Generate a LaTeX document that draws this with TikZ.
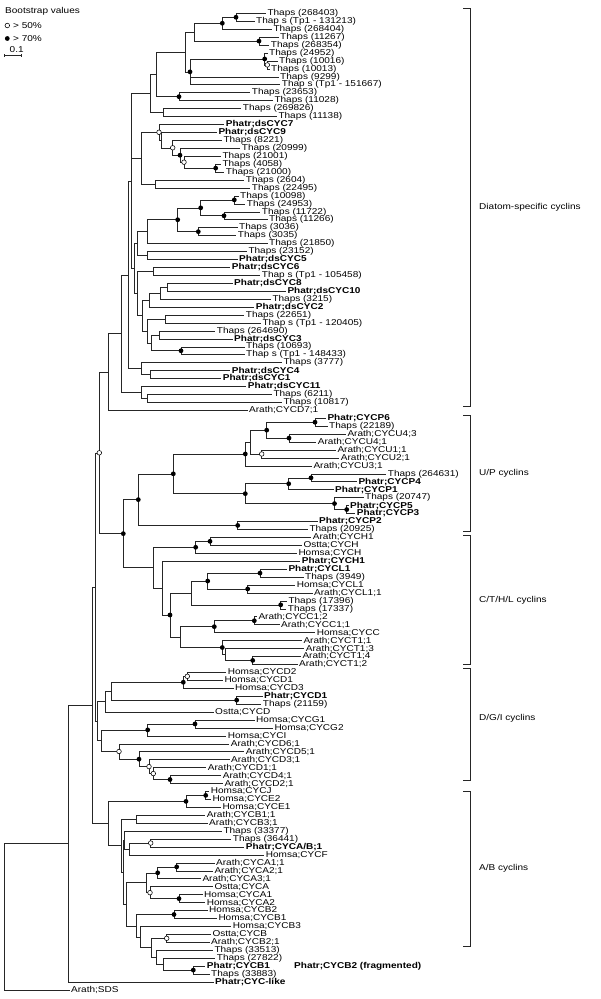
\documentclass[tikz,border=0pt]{standalone}
\usepackage{fontspec}
\setmainfont{Liberation Sans}
\usepackage{graphicx}
\usetikzlibrary{calc}
\newcommand\sx[1]{\scalebox{1.18}[1]{#1}}
\tikzset{
 br/.style={line width=0.55pt, draw=black!85},
 brk/.style={line width=0.7pt, draw=black!85},
 lab/.style={anchor=west, inner sep=0pt, font=\fontsize{8.5}{9}\selectfont},
 fdot/.style={circle, fill=black, inner sep=0pt, minimum size=4.8pt},
 odot/.style={circle, draw=black, fill=white, line width=0.55pt, inner sep=0pt, minimum size=4.6pt},
}
\newcommand\Lf[3]{\coordinate (L#1) at (#2-1.5, {13.3+7.94*(#1-1)});
  \node[lab] (T#1) at (#2, {13.3+7.94*(#1-1)}) {\sx{#3}};}
\newcommand\Lb[3]{\Lf{#1}{#2}{\bfseries #3}}
\newcommand\Nd[5]{\path let \p1=(#3), \p2=(#4) in coordinate (#1) at (#2pt, {0.5*(\y1+\y2)});
  \foreach \cc in {#5} {\draw[br] (#1) |- (\cc);}}
\newcommand\Fd[1]{\node[fdot] (d#1) at (#1) {};}
\newcommand\Od[1]{\node[odot] (d#1) at (#1) {};}
\begin{document}
\begin{tikzpicture}[x=1pt,y=-1pt]
\useasboundingbox (0,0) rectangle (600,999);
% legend
\node[lab] (leg) at (5,11.7) {\sx{Bootstrap values}};
\node[odot] (lo) at (7.3,25.5) {};
\node[lab] (lot) at (13,25.5) {\sx{> 50\%}};
\node[fdot] (lf) at (7.3,38.5) {};
\node[lab] (lft) at (13,38.5) {\sx{> 70\%}};
\node[lab] (sbt) at (9.5,49.5) {\sx{0.1}};
\coordinate (s1) at (4.5,55.5); \coordinate (s2) at (21.5,55.5);
\draw[br] (s1) -- (s2);
\draw[br] ($(s1)+(0,-1.5)$) -- ($(s1)+(0,1.5)$);
\draw[br] ($(s2)+(0,-1.5)$) -- ($(s2)+(0,1.5)$);
% leaves
\Lf{1}{267.3}{Thaps (268403)}
\Lf{2}{256}{Thap s (Tp1 - 131213)}
\Lf{3}{273.3}{Thaps (268404)}
\Lf{4}{280}{Thaps (11267)}
\Lf{5}{270.7}{Thaps (268354)}
\Lf{6}{269}{Thaps (24952)}
\Lf{7}{279}{Thaps (10016)}
\Lf{8}{271}{Thaps (10013)}
\Lf{9}{280}{Thaps (9299)}
\Lf{10}{281.7}{Thap s (Tp1 - 151667)}
\Lf{11}{251.7}{Thaps (23653)}
\Lf{12}{274.3}{Thaps (11028)}
\Lf{13}{242.7}{Thaps (269826)}
\Lf{14}{278.3}{Thaps (11138)}
\Lb{15}{225.7}{Phatr;dsCYC7}
\Lb{16}{218.3}{Phatr;dsCYC9}
\Lf{17}{223.3}{Thaps (8221)}
\Lf{18}{241.7}{Thaps (20999)}
\Lf{19}{222.3}{Thaps (21001)}
\Lf{20}{222.3}{Thaps (4058)}
\Lf{21}{225.7}{Thaps (21000)}
\Lf{22}{245.7}{Thaps (2604)}
\Lf{23}{251.7}{Thaps (22495)}
\Lf{24}{240}{Thaps (10098)}
\Lf{25}{246.7}{Thaps (24953)}
\Lf{26}{261.7}{Thaps (11722)}
\Lf{27}{269}{Thaps (11266)}
\Lf{28}{239}{Thaps (3036)}
\Lf{29}{237.7}{Thaps (3035)}
\Lf{30}{269}{Thaps (21850)}
\Lf{31}{248.3}{Thaps (23152)}
\Lb{32}{239}{Phatr;dsCYC5}
\Lb{33}{231.7}{Phatr;dsCYC6}
\Lf{34}{261.7}{Thap s (Tp1 - 105458)}
\Lb{35}{234}{Phatr;dsCYC8}
\Lb{36}{287.3}{Phatr;dsCYC10}
\Lf{37}{272.3}{Thaps (3215)}
\Lb{38}{255.7}{Phatr;dsCYC2}
\Lf{39}{245.7}{Thaps (22651)}
\Lf{40}{262.3}{Thap s (Tp1 - 120405)}
\Lf{41}{216.7}{Thaps (264690)}
\Lb{42}{234}{Phatr;dsCYC3}
\Lf{43}{246}{Thaps (10693)}
\Lf{44}{246}{Thap s (Tp1 - 148433)}
\Lf{45}{283.3}{Thaps (3777)}
\Lb{46}{231.7}{Phatr;dsCYC4}
\Lb{47}{222.7}{Phatr;dsCYC1}
\Lb{48}{247.7}{Phatr;dsCYC11}
\Lf{49}{273.3}{Thaps (6211)}
\Lf{50}{283.3}{Thaps (10817)}
\Lf{51}{249}{Arath;CYCD7;1}
\Lb{52}{327.3}{Phatr;CYCP6}
\Lf{53}{329}{Thaps (22189)}
\Lf{54}{347.3}{Arath;CYCU4;3}
\Lf{55}{317.7}{Arath;CYCU4;1}
\Lf{56}{337.3}{Arath;CYCU1;1}
\Lf{57}{340.7}{Arath;CYCU2;1}
\Lf{58}{313.3}{Arath;CYCU3;1}
\Lf{59}{387.7}{Thaps (264631)}
\Lb{60}{358.3}{Phatr;CYCP4}
\Lb{61}{335}{Phatr;CYCP1}
\Lf{62}{365}{Thaps (20747)}
\Lb{63}{350}{Phatr;CYCP5}
\Lb{64}{356.7}{Phatr;CYCP3}
\Lb{65}{319}{Phatr;CYCP2}
\Lf{66}{309.3}{Thaps (20925)}
\Lf{67}{312.7}{Arath;CYCH1}
\Lf{68}{303.3}{Ostta;CYCH}
\Lf{69}{298.3}{Homsa;CYCH}
\Lb{70}{301.7}{Phatr;CYCH1}
\Lb{71}{288.3}{Phatr;CYCL1}
\Lf{72}{305}{Thaps (3949)}
\Lf{73}{296.7}{Homsa;CYCL1}
\Lf{74}{314}{Arath;CYCL1;1}
\Lf{75}{288.3}{Thaps (17396)}
\Lf{76}{287.7}{Thaps (17337)}
\Lf{77}{258.3}{Arath;CYCC1;2}
\Lf{78}{281}{Arath;CYCC1;1}
\Lf{79}{316.7}{Homsa;CYCC}
\Lf{80}{303.3}{Arath;CYCT1;1}
\Lf{81}{305.7}{Arath;CYCT1;3}
\Lf{82}{302.3}{Arath;CYCT1;4}
\Lf{83}{299}{Arath;CYCT1;2}
\Lf{84}{227.7}{Homsa;CYCD2}
\Lf{85}{224.3}{Homsa;CYCD1}
\Lf{86}{235}{Homsa;CYCD3}
\Lb{87}{264}{Phatr;CYCD1}
\Lf{88}{262.7}{Thaps (21159)}
\Lf{89}{215}{Ostta;CYCD}
\Lf{90}{256}{Homsa;CYCG1}
\Lf{91}{274.3}{Homsa;CYCG2}
\Lf{92}{227.7}{Homsa;CYCI}
\Lf{93}{230.7}{Arath;CYCD6;1}
\Lf{94}{245.7}{Arath;CYCD5;1}
\Lf{95}{231}{Arath;CYCD3;1}
\Lf{96}{207.7}{Arath;CYCD1;1}
\Lf{97}{222.7}{Arath;CYCD4;1}
\Lf{98}{224.3}{Arath;CYCD2;1}
\Lf{99}{210.7}{Homsa;CYCJ}
\Lf{100}{212.3}{Homsa;CYCE2}
\Lf{101}{222.3}{Homsa;CYCE1}
\Lf{102}{206.7}{Arath;CYCB1;1}
\Lf{103}{209}{Arath;CYCB3;1}
\Lf{104}{223.3}{Thaps (33377)}
\Lf{105}{232.7}{Thaps (36441)}
\Lb{106}{245.7}{Phatr;CYCA/B;1}
\Lf{107}{265.7}{Homsa;CYCF}
\Lf{108}{216}{Arath;CYCA1;1}
\Lf{109}{214.3}{Arath;CYCA2;1}
\Lf{110}{202.3}{Arath;CYCA3;1}
\Lf{111}{214.3}{Ostta;CYCA}
\Lf{112}{204}{Homsa;CYCA1}
\Lf{113}{206.7}{Homsa;CYCA2}
\Lf{114}{209}{Homsa;CYCB2}
\Lf{115}{218.3}{Homsa;CYCB1}
\Lf{116}{232.7}{Homsa;CYCB3}
\Lf{117}{212.3}{Ostta;CYCB}
\Lf{118}{211}{Arath;CYCB2;1}
\Lf{119}{214.3}{Thaps (33513)}
\Lf{120}{216.7}{Thaps (27822)}
\Lb{121}{206.7}{Phatr;CYCB1}
\Lf{122}{211}{Thaps (33883)}
\Lb{123}{215}{Phatr;CYC-like}
\Lf{124}{71}{Arath;SDS}
% diatom upper
\Nd{nA}{236}{L1}{L2}{L1,L2}
\Nd{nB}{222.3}{nA}{L3}{nA,L3}
\Nd{nC}{259}{L4}{L5}{L4,L5}
\Nd{nD1}{267.3}{L7}{L8}{L7,L8}
\Nd{nD2}{264.7}{L6}{nD1}{L6,nD1}
\Nd{nG1}{194.3}{nB}{nC}{nB,nC}
\Nd{nP}{190}{nD2}{L10}{nD2,L9,L10}
\Nd{nQ}{185}{nG1}{nP}{nG1,nP}
\Nd{nE}{179}{L11}{L12}{L11,L12}
\Nd{nR}{156.7}{nQ}{nE}{nQ,nE}
\Nd{nK}{163.3}{L13}{L14}{L13,L14}
\Nd{nS}{150}{nR}{nK}{nR,nK}
\Nd{nF21}{215.7}{L20}{L21}{L20,L21}
\Nd{nF19}{184}{L19}{nF21}{L19,nF21}
\Nd{nF18}{180}{L18}{nF19}{L18,nF19}
\Nd{nF17}{172.7}{L17}{nF18}{L17,nF18}
\Nd{nF16}{161.7}{L16}{nF17}{L16,nF17}
\Nd{nF15}{159}{L15}{nF16}{L15,nF16}
\Nd{nH}{155.7}{L22}{L23}{L22,L23}
\Nd{nY1}{141.7}{nF15}{nH}{nF15,nH}
% diatom middle
\Nd{n24}{234.3}{L24}{L25}{L24,L25}
\Nd{n26}{224}{L26}{L27}{L26,L27}
\Nd{n2427}{200.7}{n24}{n26}{n24,n26}
\Nd{n28}{198.3}{L28}{L29}{L28,L29}
\Nd{n2429}{177.7}{n2427}{n28}{n2427,n28}
\Nd{n2430}{147.3}{n2429}{L30}{n2429,L30}
\Nd{n31}{147.3}{L31}{L32}{L31,L32}
\Nd{n2432}{137.7}{n2430}{n31}{n2430,n31}
\Nd{n33}{153.3}{L33}{L34}{L33,L34}
\Nd{n35}{167.3}{L35}{L36}{L35,L36}
\Nd{n3537}{160}{n35}{L37}{n35,L37}
\Nd{n3538}{149.3}{n3537}{L38}{n3537,L38}
\Nd{n39}{165}{L39}{L40}{L39,L40}
\Nd{n41}{159}{L41}{L42}{L41,L42}
\Nd{n43}{181}{L43}{L44}{L43,L44}
\Nd{n4144}{151.7}{n41}{n43}{n41,n43}
\Nd{n3944}{147.3}{n39}{n4144}{n39,n4144}
\Nd{n3544}{142.7}{n3538}{n3944}{n3538,n3944}
\Nd{n3344}{137.3}{n33}{n3544}{n33,n3544}
\Nd{nX}{134}{n2432}{n3344}{n2432,n3344}
\Nd{nW1}{131}{nS}{nX}{nS,nY1,nX}
\Nd{n46}{150}{L46}{L47}{L46,L47}
\Nd{n4547}{141}{L45}{n46}{L45,n46}
\Nd{nZ}{128.5}{nW1}{n4547}{nW1,n4547}
\Nd{n49}{147.3}{L49}{L50}{L49,L50}
\Nd{n4850}{141}{L48}{n49}{L48,n49}
\Nd{nDtop}{121}{nZ}{n4850}{nZ,n4850}
\Nd{nD7}{108.3}{nDtop}{L51}{nDtop,L51}
% U/P
\Nd{u52}{315}{L52}{L53}{L52,L53}
\Nd{u54}{289}{L54}{L55}{L54,L55}
\Nd{u5255}{266.7}{u52}{u54}{u52,u54}
\Nd{u56}{261.7}{L56}{L57}{L56,L57}
\Nd{u5257}{250.7}{u5255}{u56}{u5255,u56}
\Nd{u5258}{245.3}{u5257}{L58}{u5257,L58}
\Nd{u59}{311}{L59}{L60}{L59,L60}
\Nd{u5961}{288.7}{u59}{L61}{u59,L61}
\Nd{u63}{346.7}{L63}{L64}{L63,L64}
\Nd{u6264}{334.5}{L62}{u63}{L62,u63}
\Nd{u5964}{245.3}{u5961}{u6264}{u5961,u6264}
\Nd{u5264}{173.3}{u5258}{u5964}{u5258,u5964}
\Nd{u65}{237.7}{L65}{L66}{L65,L66}
\Nd{uUP}{138.3}{u5264}{u65}{u5264,u65}
% C/T/H/L
\Nd{c67}{210}{L67}{L68}{L67,L68}
\Nd{c6769}{195.7}{c67}{L69}{c67,L69}
\Nd{c71}{260}{L71}{L72}{L71,L72}
\Nd{c73}{247.7}{L73}{L74}{L73,L74}
\Nd{c7174}{207.7}{c71}{c73}{c71,c73}
\Nd{c75}{280.7}{L75}{L76}{L75,L76}
\Nd{c7176}{191}{c7174}{c75}{c7174,c75}
\Nd{c77}{254.3}{L77}{L78}{L77,L78}
\Nd{c7779}{214.3}{c77}{L79}{c77,L79}
\Nd{c82}{252.7}{L82}{L83}{L82,L83}
\Nd{c8183}{225.7}{L81}{c82}{L81,c82}
\Nd{c8083}{222.3}{L80}{c8183}{L80,c8183}
\Nd{c7783}{180.7}{c7779}{c8083}{c7779,c8083}
\Nd{c7183}{170}{c7176}{c7783}{c7176,c7783}
\Nd{c7083}{162.3}{L70}{c7183}{L70,c7183}
\Nd{cCT}{153.3}{c6769}{c7083}{c6769,c7083}
\Nd{uUPC}{123.3}{uUP}{cCT}{uUP,cCT}
\Nd{nU}{99.3}{nD7}{uUPC}{nD7,uUPC}
% D/G/I
\Nd{g84}{187.3}{L84}{L85}{L84,L85}
\Nd{g8486}{183.3}{g84}{L86}{g84,L86}
\Nd{g87}{236.7}{L87}{L88}{L87,L88}
\Nd{g8488}{111.7}{g8486}{g87}{g8486,g87}
\Nd{g8489}{105.7}{g8488}{L89}{g8488,L89}
\Nd{g90}{195}{L90}{L91}{L90,L91}
\Nd{g9092}{147.7}{g90}{L92}{g90,L92}
\Nd{g97}{170}{L97}{L98}{L97,L98}
\Nd{g96}{153.3}{L96}{g97}{L96,g97}
\Nd{g95}{149}{L95}{g96}{L95,g96}
\Nd{g94}{139}{L94}{g95}{L94,g95}
\Nd{g93}{119}{L93}{g94}{L93,g94}
\Nd{g9098}{101.7}{g9092}{g93}{g9092,g93}
\Nd{gDGI}{97.5}{g8489}{g9098}{g8489,g9098}
\Nd{nV}{95}{nU}{gDGI}{nU,gDGI}
% A/B
\Nd{a99}{205.7}{L99}{L100}{L99,L100}
\Nd{a99101}{186}{a99}{L101}{a99,L101}
\Nd{a102}{136.7}{L102}{L103}{L102,L103}
\Nd{a105}{150.7}{L105}{L106}{L105,L106}
\Nd{a105107}{129}{a105}{L107}{a105,L107}
\Nd{a104107}{124}{L104}{a105107}{L104,a105107}
\Nd{a108}{176.7}{L108}{L109}{L108,L109}
\Nd{a108110}{157.7}{a108}{L110}{a108,L110}
\Nd{a112}{179}{L112}{L113}{L112,L113}
\Nd{a111113}{150}{L111}{a112}{L111,a112}
\Nd{aA}{146}{a108110}{a111113}{a108110,a111113}
\Nd{a114}{174}{L114}{L115}{L114,L115}
\Nd{a117}{166.7}{L117}{L118}{L117,L118}
\Nd{a121}{193.3}{L121}{L122}{L121,L122}
\Nd{a120122}{163.3}{L120}{a121}{L120,a121}
\Nd{a119122}{156.7}{L119}{a120122}{L119,a120122}
\Nd{a117122}{151.7}{a117}{a119122}{a117,a119122}
\Nd{a116122}{140.7}{L116}{a117122}{L116,a117122}
\Nd{a114122}{136}{a114}{a116122}{a114,a116122}
\Nd{aAB}{126}{aA}{a114122}{aA,a114122}
\Nd{aX}{123}{a104107}{aAB}{a104107,aAB}
\Nd{aABp}{121.7}{a102}{aX}{a102,aX}
\Nd{aABE}{108.5}{a99101}{aABp}{a99101,aABp}
\Nd{nW}{92.7}{nV}{aABE}{nV,aABE}
\Nd{n68}{68.3}{nW}{L123}{nW,L123}
\Nd{root}{4.3}{n68}{L124}{n68,L124}
% dots
\foreach \q in {nA,nB,nC,nD2,nP,nE,nF21,nF18,n24,n26,n2427,n28,n2429,n43,u52,u54,u5255,u5258,u59,u5961,u63,u6264,u5964,u5264,u65,uUP,c67,c6769,c71,c73,c7174,c75,c77,c7779,c82,c8083,c7183,uUPC,g8486,g87,g90,g9092,g97,g94,a99,a99101,a108,a108110,a112,a114,a121} {\Fd{\q}}
\foreach \q in {nD1,nF19,nF17,nF15,nU,u56,g84,g96,g95,g93,a105,a111113,a117} {\Od{\q}}
% brackets and group labels
\draw[brk] (463,8) -- (470,8) -- (470,406) -- (463,406);
\draw[brk] (463,415) -- (470,415) -- (470,531) -- (463,531);
\draw[brk] (463,535) -- (470,535) -- (470,664) -- (463,664);
\draw[brk] (463,668) -- (470,668) -- (470,780) -- (463,780);
\draw[brk] (463,791) -- (470,791) -- (470,946) -- (463,946);
\node[lab] (gD) at (479,207) {\sx{Diatom-specific cyclins}};
\node[lab] (gU) at (479,473) {\sx{U/P cyclins}};
\node[lab] (gC) at (479,600) {\sx{C/T/H/L cyclins}};
\node[lab] (gG) at (479,718) {\sx{D/G/I cyclins}};
\node[lab] (gA) at (479,868) {\sx{A/B cyclins}};
\node[lab] (frag) at (294,966.7) {\sx{\bfseries Phatr;CYCB2 (fragmented)}};
\end{tikzpicture}
\end{document}
